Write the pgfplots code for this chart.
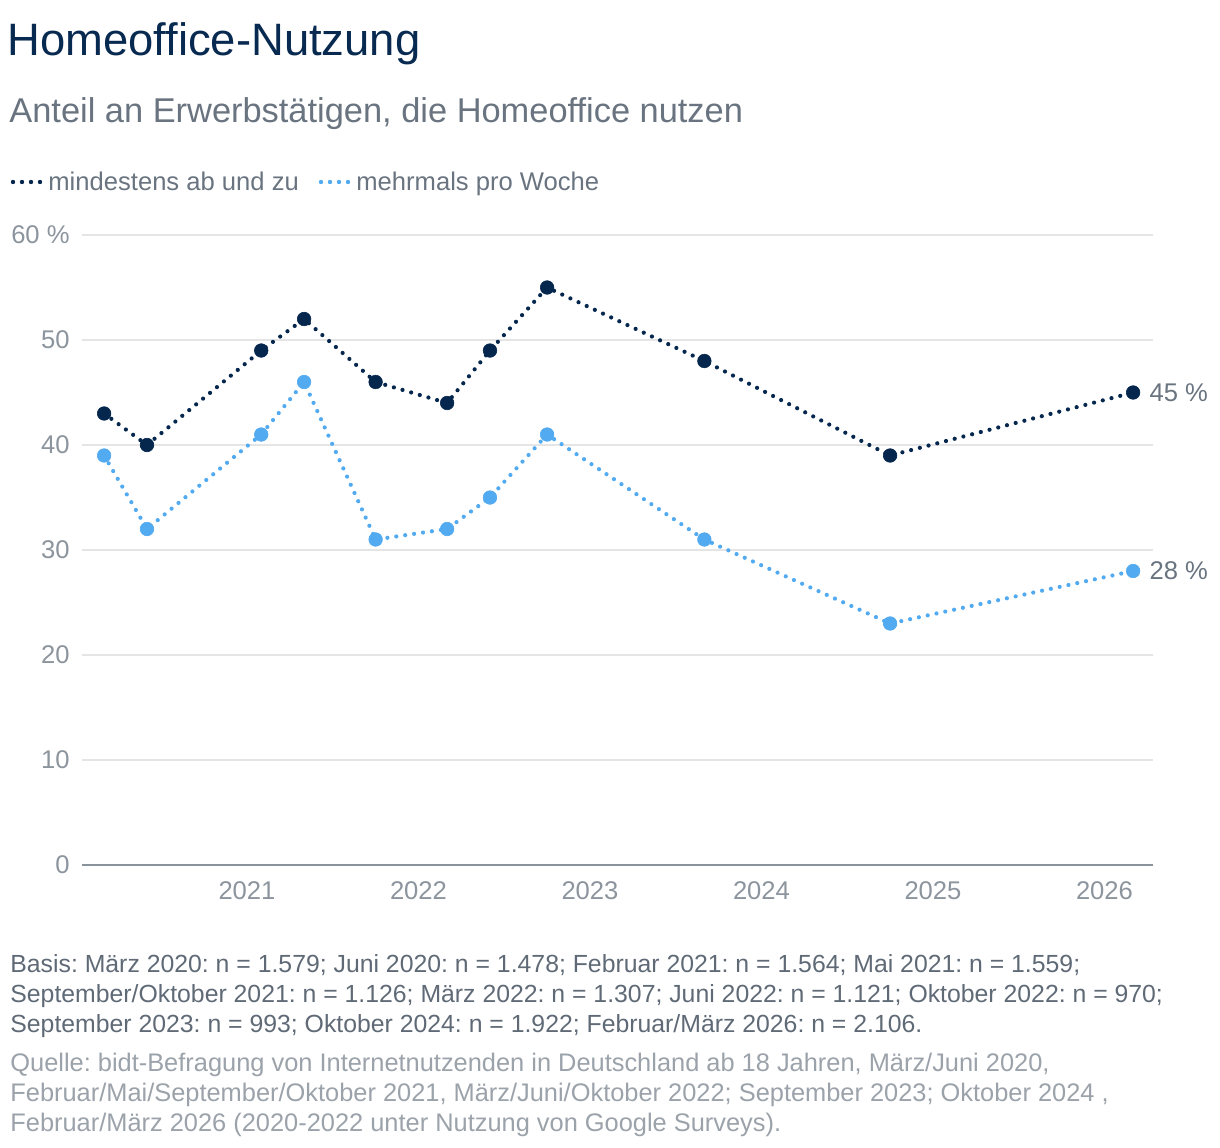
\documentclass[border=0pt]{standalone}
\usepackage{pgfplots}
\pgfplotsset{compat=1.18}
\usepackage{fontspec}
\setmainfont{Liberation Sans}
\frenchspacing
\definecolor{navy}{RGB}{5,38,77}
\definecolor{sky}{RGB}{82,170,240}
\definecolor{titlec}{RGB}{8,42,80}
\definecolor{subc}{RGB}{105,116,128}
\definecolor{tickc}{RGB}{140,148,157}
\definecolor{gridc}{RGB}{229,229,229}
\definecolor{axisc}{RGB}{138,147,156}
\definecolor{footc}{RGB}{95,106,118}
\definecolor{srcc}{RGB}{155,162,170}
\begin{document}
\begin{tikzpicture}
\path[use as bounding box] (0,0) rectangle (610bp,-574bp);
% title, subtitle
\node[anchor=base west, inner sep=0, text=titlec, font=\fontsize{22.7bp}{26bp}\selectfont] at (3.5bp,-27.5bp) {Homeoffice-Nutzung};
\node[anchor=base west, inner sep=0, text=subc, font=\fontsize{17.2bp}{20bp}\selectfont] at (4.5bp,-61bp) {Anteil an Erwerbstätigen, die Homeoffice nutzen};
% legend
\draw[navy, line width=2.2bp, line cap=round, dash pattern=on 0pt off 4.5bp] (6.5bp,-91bp) -- (21bp,-91bp);
\node[anchor=base west, inner sep=0, text=subc, font=\fontsize{12.8bp}{15bp}\selectfont] at (24bp,-95bp) {mindestens ab und zu};
\draw[sky, line width=2.2bp, line cap=round, dash pattern=on 0pt off 4.5bp] (160.5bp,-91bp) -- (175bp,-91bp);
\node[anchor=base west, inner sep=0, text=subc, font=\fontsize{12.8bp}{15bp}\selectfont] at (178bp,-95bp) {mehrmals pro Woche};
\begin{axis}[
  at={(41bp,-432.5bp)}, anchor=south west,
  scale only axis, width=535.5bp, height=315bp,
  xmin=2020.038, xmax=2026.283, ymin=0, ymax=60,
  axis x line=bottom, axis y line=left,
  x axis line style={draw=axisc, line width=1.2bp, -},
  y axis line style={draw=none},
  major tick length=0pt,
  xtick={2021,2022,2023,2024,2025,2026},
  xticklabels={2021,2022,2023,2024,2025,2026},
  ytick={0,10,20,30,40,50,60},
  yticklabels={0,10,20,30,40,50,60 \%},
  ymajorgrids, grid style={draw=gridc, line width=1bp},
  xticklabel style={anchor=north, inner sep=0pt, yshift=-8bp, text=tickc, font=\fontsize{12.8bp}{15bp}\selectfont},
  yticklabel style={anchor=east, inner sep=0pt, xshift=-6bp, text=tickc, font=\fontsize{12.8bp}{15bp}\selectfont},
  clip=false,
]
\addplot[navy, line width=2.1bp, line cap=round, dash pattern=on 0pt off 4.5bp,
  mark=*, mark size=3.4bp, mark options={solid, fill=navy, draw=navy, line width=0.3bp}]
  coordinates {(2020.167,43) (2020.417,40) (2021.083,49) (2021.333,52) (2021.75,46) (2022.167,44) (2022.417,49) (2022.75,55) (2023.667,48) (2024.75,39) (2026.167,45)};
\addplot[sky, line width=2.1bp, line cap=round, dash pattern=on 0pt off 4.5bp,
  mark=*, mark size=3.4bp, mark options={solid, fill=sky, draw=sky, line width=0.3bp}]
  coordinates {(2020.167,39) (2020.417,32) (2021.083,41) (2021.333,46) (2021.75,31) (2022.167,32) (2022.417,35) (2022.75,41) (2023.667,31) (2024.75,23) (2026.167,28)};
\node[anchor=west, inner sep=0, xshift=8bp, text=subc, font=\fontsize{12.8bp}{15bp}\selectfont] at (axis cs:2026.167,45) {45 \%};
\node[anchor=west, inner sep=0, xshift=8bp, text=subc, font=\fontsize{12.8bp}{15bp}\selectfont] at (axis cs:2026.167,28) {28 \%};
\end{axis}
% footnotes
\begin{scope}[every node/.style={anchor=base west, inner sep=0, font=\fontsize{12.4bp}{15bp}\selectfont}]
\node[text=footc] at (5bp,-486bp) {Basis: März 2020: n = 1.579; Juni 2020: n = 1.478; Februar 2021: n = 1.564; Mai 2021: n = 1.559;};
\node[text=footc] at (5bp,-501bp) {September/Oktober 2021: n = 1.126; März 2022: n = 1.307; Juni 2022: n = 1.121; Oktober 2022: n = 970;};
\node[text=footc] at (5bp,-516bp) {September 2023: n = 993; Oktober 2024: n = 1.922; Februar/März 2026: n = 2.106.};
\end{scope}
\begin{scope}[every node/.style={anchor=base west, inner sep=0, font=\fontsize{12.7bp}{15bp}\selectfont}]
\node[text=srcc] at (5bp,-535.5bp) {Quelle: bidt-Befragung von Internetnutzenden in Deutschland ab 18 Jahren, März/Juni 2020,};
\node[text=srcc] at (5bp,-550.5bp) {Februar/Mai/September/Oktober 2021, März/Juni/Oktober 2022; September 2023; Oktober 2024 ,};
\node[text=srcc] at (5bp,-565.5bp) {Februar/März 2026 (2020-2022 unter Nutzung von Google Surveys).};
\end{scope}
\end{tikzpicture}
\end{document}
